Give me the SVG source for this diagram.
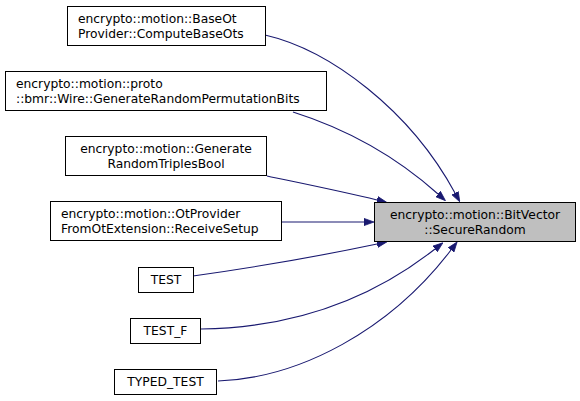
<svg xmlns="http://www.w3.org/2000/svg" width="580" height="401" viewBox="0 0 580 401">
<style>
.n rect{fill:#ffffff;stroke:#000000;stroke-width:1}
.t rect{fill:#bfbfbf;stroke:#000000;stroke-width:1}
text{font-family:"DejaVu Sans",sans-serif;font-size:12.3px;fill:#000000}
.m{text-anchor:middle}
.e path{fill:none;stroke:#191970;stroke-width:1.1;marker-end:url(#ah)}
</style>
<defs>
<marker id="ah" markerUnits="userSpaceOnUse" markerWidth="10" markerHeight="8" viewBox="0 -4 10 8" refX="0" refY="0" orient="auto">
<path d="M0,-3.6 L10,0 L0,3.6 z" fill="#191970" stroke="#191970" stroke-width="0.8"/>
</marker>
</defs>
<rect width="580" height="401" fill="#ffffff"/>
<g class="e" id="edges">
<path d="M265,35 C330,50 410,110 455,193"/>
<path d="M293,112 C350,130 400,160 438,194"/>
<path d="M267,176 C300,183 340,191 377,200"/>
<path d="M281,222 L364,222"/>
<path d="M193,276 C250,268 320,256 377,244"/>
<path d="M201,329 C280,328 360,308 435,249"/>
<path d="M218,381 C300,378 390,330 451,250"/>
</g>
<g class="t" id="target">
<rect x="374.5" y="202.5" width="201" height="39"/>
<text class="m" x="475" y="218.5">encrypto::motion::BitVector</text>
<text class="m" x="475" y="233.5">::SecureRandom</text>
</g>
<g class="n" id="n1">
<rect x="67.5" y="6.5" width="198" height="39"/>
<text x="78" y="22.5">encrypto::motion::BaseOt</text>
<text x="78" y="37.5">Provider::ComputeBaseOts</text>
</g>
<g class="n" id="n2">
<rect x="5.5" y="71.5" width="321" height="39"/>
<text x="16" y="87.5">encrypto::motion::proto</text>
<text x="16" y="102.5">::bmr::Wire::GenerateRandomPermutationBits</text>
</g>
<g class="n" id="n3">
<rect x="65.5" y="136.5" width="201" height="39"/>
<text class="m" x="166" y="152.5">encrypto::motion::Generate</text>
<text class="m" x="166" y="167.5">RandomTriplesBool</text>
</g>
<g class="n" id="n4">
<rect x="50.5" y="201.5" width="231" height="39"/>
<text x="61" y="217.5">encrypto::motion::OtProvider</text>
<text x="61" y="232.5">FromOtExtension::ReceiveSetup</text>
</g>
<g class="n" id="n5">
<rect x="138.5" y="267.5" width="55" height="25"/>
<text class="m" x="166" y="284">TEST</text>
</g>
<g class="n" id="n6">
<rect x="130.5" y="318.5" width="70" height="25"/>
<text class="m" x="165.5" y="335">TEST_F</text>
</g>
<g class="n" id="n7">
<rect x="114.5" y="369.5" width="102" height="25"/>
<text class="m" x="165.5" y="386">TYPED_TEST</text>
</g>
</svg>
